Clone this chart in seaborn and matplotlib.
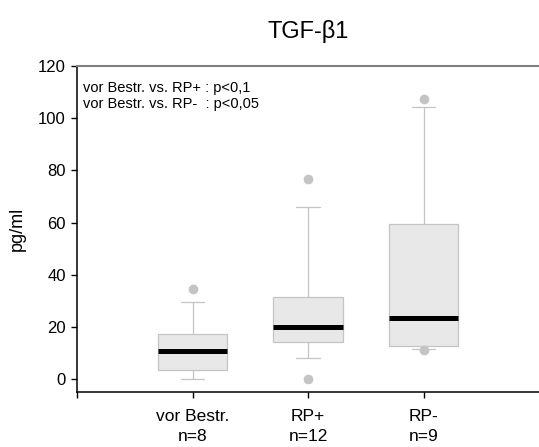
import numpy as np
import pandas as pd
import matplotlib
matplotlib.use("Agg")
import matplotlib.pyplot as plt
import seaborn as sns

# groups and reconstructed samples (read from the box/whisker/outlier positions)
groups = ["vor Bestr.", "RP+", "RP-"]
n_labels = ["n=8", "n=12", "n=9"]
vor_bestr = [0.0, 0.0, 4.8, 8.6, 12.8, 13.2, 29.5, 34.6]
rp_plus = [0.1, 8.2, 8.2, 16.1, 18.0, 19.9, 19.9, 19.9, 19.9, 66.0, 66.0, 76.7]
rp_minus = [11.2, 11.6, 12.5, 18.0, 23.5, 41.0, 59.3, 104.1, 107.5]
y_ticks = [0, 20, 40, 60, 80, 100, 120]
stats_text = ["vor Bestr. vs. RP+ : p<0,1", "vor Bestr. vs. RP-  : p<0,05"]

df = pd.DataFrame({
    "group": [groups[0]] * len(vor_bestr) + [groups[1]] * len(rp_plus) + [groups[2]] * len(rp_minus),
    "value": vor_bestr + rp_plus + rp_minus,
})

sns.set_style("ticks")
plt.rcParams["font.family"] = ["Liberation Sans", "DejaVu Sans"]
plt.rcParams["text.color"] = "black"
plt.rcParams["axes.labelcolor"] = "black"
plt.rcParams["xtick.color"] = "black"
plt.rcParams["ytick.color"] = "black"

fig = plt.figure(figsize=(5.39, 4.47), dpi=100)
ax = fig.add_axes([0.1429, 0.123, 0.8571, 0.7293])

grey = "#c4c4c4"
sns.boxplot(
    data=df, x="group", y="value", order=groups, ax=ax,
    whis=(10, 90), width=0.6, color="#e8e8e8", saturation=1,
    linecolor=grey, linewidth=0.9,
    medianprops=dict(color="black", linewidth=3.6),
    flierprops=dict(marker="o", markerfacecolor=grey, markeredgecolor=grey, markersize=6),
    capwidths=0.2,
)

ax.set_xlim(-1, 3)
ax.set_ylim(-5, 120)
ax.set_yticks(y_ticks)
ax.set_yticklabels([str(t) for t in y_ticks], fontsize=12)
ax.set_xticks([-1, 0, 1, 2])
ax.set_xticklabels([""] + [f"{g}\n{n}" for g, n in zip(groups, n_labels)],
                   fontsize=12.5, linespacing=1.35)
ax.tick_params(axis="both", direction="out", length=4.5, width=1)
ax.tick_params(axis="x", pad=8)
ax.set_xlabel("")
ax.set_ylabel("pg/ml", fontsize=13, labelpad=9)

for side in ["left", "bottom"]:
    ax.spines[side].set_color("black")
    ax.spines[side].set_linewidth(1.1)
ax.spines["top"].set_color("#808080")
ax.spines["top"].set_linewidth(1.5)
ax.spines["right"].set_visible(False)

ax.text(0.013, 0.955, "\n".join(stats_text), transform=ax.transAxes,
        fontsize=10.5, va="top", ha="left", linespacing=1.2)

ax.set_title("TGF-β1", fontsize=17, pad=20)

fig.savefig("out.png", dpi=100)
